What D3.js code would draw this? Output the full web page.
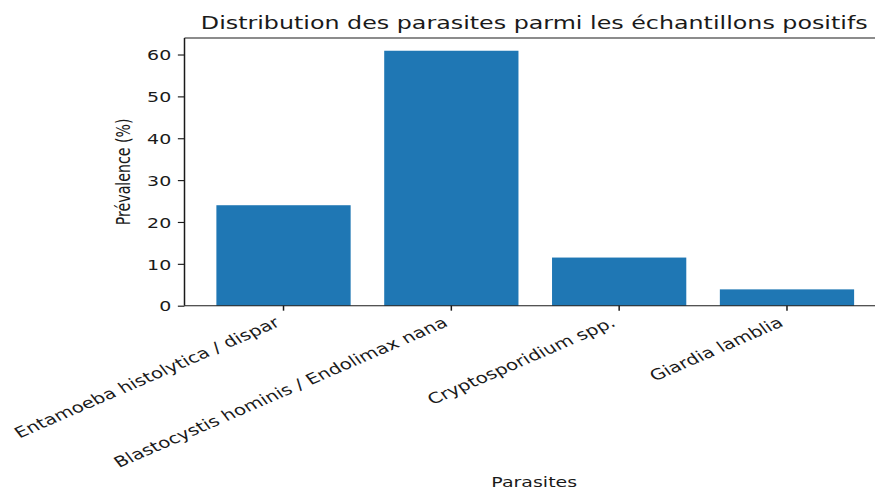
<!DOCTYPE html>
<html>
<head>
<meta charset="utf-8">
<script src="https://cdn.jsdelivr.net/npm/d3@7"></script>
<style>
  html, body { margin: 0; padding: 0; background: #fff; }
  svg { display: block; }
  text { font-family: "DejaVu Sans", sans-serif; fill: #1a1a1a; }
</style>
</head>
<body>
<script>
// ---- data ----
const categories = [
  "Entamoeba histolytica / dispar",
  "Blastocystis hominis / Endolimax nana",
  "Cryptosporidium spp.",
  "Giardia lamblia"
];
const values = [24.0, 60.9, 11.5, 3.9];
const yTicks = [0, 10, 20, 30, 40, 50, 60];
const titleText = "Distribution des parasites parmi les échantillons positifs";
const xLabelText = "Parasites";
const yLabelText = "Prévalence (%)";

// ---- layout ----
const W = 875, H = 491;
const SX = 1.367, SY = 1.023;           // picture was stretched from its original size
const plot = { left: 184.5, right: 886, top: 38, bottom: 305.7 };
const fs = 13.89, fsX = 14.5, fsTitle = 17.4;
const barColor = "#1f77b4";
const ink = "#1a1a1a";

const svg = d3.select("body").append("svg")
  .attr("width", W).attr("height", H);

const x = d3.scaleBand()
  .domain(categories)
  .range([plot.left, plot.right])
  .paddingInner(0.2)
  .paddingOuter(0.19);

const y = d3.scaleLinear()
  .domain([0, d3.max(values) * 1.05])
  .range([plot.bottom, plot.top]);

// bars
svg.append("g").selectAll("rect")
  .data(categories.map((c, i) => ({ c, v: values[i] })))
  .join("rect")
  .attr("x", d => x(d.c))
  .attr("width", x.bandwidth())
  .attr("y", d => y(d.v))
  .attr("height", d => y(0) - y(d.v))
  .attr("fill", barColor);

// spines
const sp = svg.append("g").attr("stroke", ink);
sp.append("line").attr("x1", plot.left).attr("x2", plot.left)
  .attr("y1", plot.top).attr("y2", plot.bottom).attr("stroke-width", 1.5);
sp.append("line").attr("x1", plot.right).attr("x2", plot.right)
  .attr("y1", plot.top).attr("y2", plot.bottom).attr("stroke-width", 1.5);
sp.append("line").attr("x1", plot.left).attr("x2", plot.right)
  .attr("y1", plot.top).attr("y2", plot.top).attr("stroke-width", 1.14);
sp.append("line").attr("x1", plot.left).attr("x2", plot.right)
  .attr("y1", plot.bottom).attr("y2", plot.bottom).attr("stroke-width", 1.14);

// y axis
const yTickLen = 3.5 * 1.389 * SX;
const yAxisG = svg.append("g")
  .attr("transform", `translate(${plot.left},0)`)
  .call(d3.axisLeft(y).tickValues(yTicks).tickSize(yTickLen).tickSizeOuter(0));
yAxisG.select(".domain").remove();
yAxisG.selectAll(".tick line").attr("stroke", ink).attr("stroke-width", 1.14);
yAxisG.selectAll(".tick text")
  .attr("x", 0).attr("dy", "0.365em")
  .attr("text-anchor", "end")
  .attr("font-size", fs)
  .attr("fill", ink)
  .attr("transform", `translate(${-yTickLen * 2},0) scale(${SX},${SY})`);

// x axis
const xTickLen = 3.5 * 1.389 * SY;
const xAxisG = svg.append("g")
  .attr("transform", `translate(0,${plot.bottom})`)
  .call(d3.axisBottom(x).tickSize(xTickLen).tickSizeOuter(0));
xAxisG.select(".domain").remove();
xAxisG.selectAll(".tick line").attr("stroke", ink).attr("stroke-width", 1.5);
const asc = 0.76 * fsX, desc = 0.24 * fsX, pad = 7 * 1.389;
xAxisG.selectAll(".tick text")
  .attr("x", 0).attr("y", 0).attr("dy", null)
  .attr("text-anchor", "end")
  .attr("font-size", fsX)
  .attr("fill", ink)
  .attr("transform", `scale(${SX},${SY}) translate(${-0.5 * desc},${pad + 0.866 * asc}) rotate(-30)`);

// title
svg.append("text")
  .attr("text-anchor", "middle")
  .attr("font-size", fsTitle)
  .attr("transform", `translate(${(plot.left + plot.right) / 2 - 1},29.3) scale(${SX},${SY})`)
  .text(titleText);

// x label
svg.append("text")
  .attr("text-anchor", "middle")
  .attr("font-size", fs)
  .attr("transform", `translate(${(plot.left + plot.right) / 2 - 1},487) scale(${SX},${SY})`)
  .text(xLabelText);

// y label
svg.append("text")
  .attr("text-anchor", "middle")
  .attr("font-size", fs)
  .attr("transform", `translate(129.5,${(plot.top + plot.bottom) / 2}) scale(${SX},${SY}) rotate(-90)`)
  .text(yLabelText);
</script>
</body>
</html>
